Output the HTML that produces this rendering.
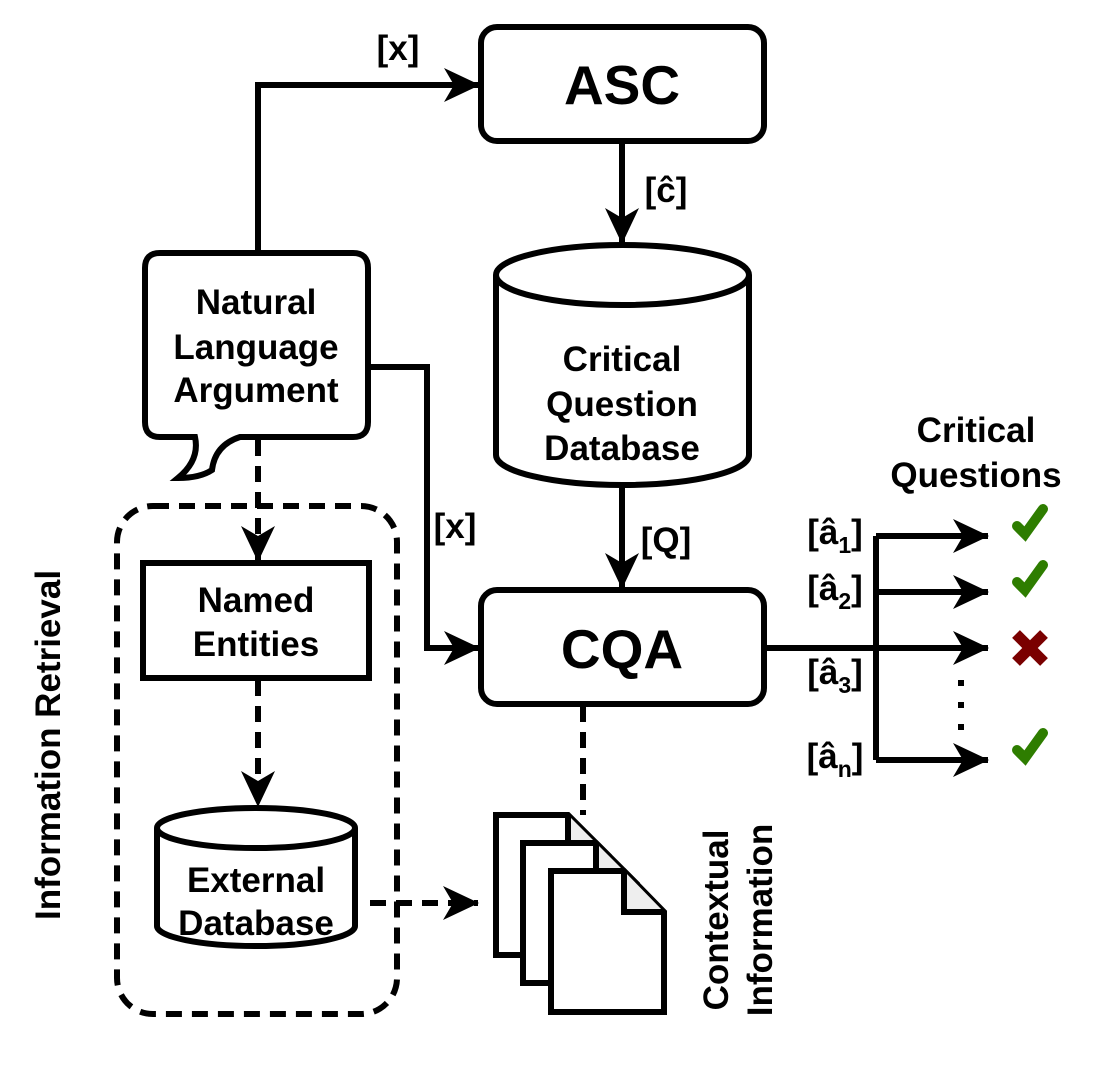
<!DOCTYPE html>
<html><head><style>body{margin:0;background:#fff}svg{display:block}</style></head><body>
<svg width="1104" height="1081" viewBox="0 0 1104 1081" xmlns="http://www.w3.org/2000/svg" font-family="Liberation Sans, sans-serif" font-weight="bold">
<defs>
<marker id="ah" markerWidth="36" markerHeight="34" refX="35" refY="17" orient="auto" markerUnits="userSpaceOnUse"><path d="M0,0 L36,17 L0,34 L10,17 Z" fill="#000"/></marker>
</defs>
<g stroke="#000" stroke-width="6" fill="none">
<path d="M258,253 V85 H479" marker-end="url(#ah)"/>
<path d="M622,141 V243" marker-end="url(#ah)"/>
<path d="M622,487 V588" marker-end="url(#ah)"/>
<path d="M368,367 H427 V648 H479" marker-end="url(#ah)"/>
<path d="M764,648 H988" marker-end="url(#ah)"/>
<path d="M876,536 V760"/>
<path d="M876,536 H988" marker-end="url(#ah)"/>
<path d="M876,592 H988" marker-end="url(#ah)"/>
<path d="M876,760 H988" marker-end="url(#ah)"/>
<g stroke-dasharray="16,10">
<rect x="117" y="506" width="280" height="508" rx="36"/>
<path d="M258,440 V561" marker-end="url(#ah)"/>
<path d="M258,680 V806" marker-end="url(#ah)"/>
<path d="M370,903 H478" marker-end="url(#ah)"/>
<path d="M583,706 V815"/>
</g>
<rect x="481" y="27" width="283" height="114" rx="16" fill="#fff"/>
<rect x="481" y="590" width="283" height="114" rx="16" fill="#fff"/>
<rect x="143" y="563" width="226" height="115" fill="#fff"/>
<path d="M160,253 H353 Q368,253 368,268 V422 Q368,437 353,437 H240 Q215,445 212,470 Q200,478 178,478 Q200,460 195,437 H160 Q145,437 145,422 V268 Q145,253 160,253 Z" fill="#fff"/>
<path d="M496,275 V455 A126.5,30 0 0 0 749,455 V275" fill="#fff"/>
<ellipse cx="622.5" cy="275" rx="126.5" ry="30" fill="#fff"/>
<path d="M157,828 V926 A99,20 0 0 0 355,926 V828" fill="#fff"/>
<ellipse cx="256" cy="828" rx="99" ry="20" fill="#fff"/>
<path d="M496,815 H568 L609,856 V955 H496 Z" fill="#fff"/>
<path d="M568,815 V856 H609" fill="#eee"/>
<path d="M523,843 H596 L637,884 V983 H523 Z" fill="#fff"/>
<path d="M596,843 V884 H637" fill="#eee"/>
<path d="M551,871 H624 L664,912 V1012 H551 Z" fill="#fff"/>
<path d="M624,871 V912 H664" fill="#eee"/>
</g>
<g font-size="35" text-anchor="middle" fill="#000">
<text x="622" y="104" font-size="55">ASC</text>
<text x="622" y="668" font-size="55">CQA</text>
<text x="256" y="314">Natural</text>
<text x="256" y="359">Language</text>
<text x="256" y="402">Argument</text>
<text x="256" y="612">Named</text>
<text x="256" y="656">Entities</text>
<text x="256" y="892">External</text>
<text x="256" y="935">Database</text>
<text x="622" y="371">Critical</text>
<text x="622" y="416">Question</text>
<text x="622" y="460">Database</text>
<text x="976" y="442">Critical</text>
<text x="976" y="487">Questions</text>
<text x="398" y="60">[x]</text>
<text x="455" y="538">[x]</text>
<text x="666" y="202">[ĉ]</text>
<text x="666" y="552">[Q]</text>
<text x="835" y="544">[â<tspan font-size="23" dy="9">1</tspan><tspan dy="-9">]</tspan></text>
<text x="835" y="600">[â<tspan font-size="23" dy="9">2</tspan><tspan dy="-9">]</tspan></text>
<text x="835" y="684">[â<tspan font-size="23" dy="9">3</tspan><tspan dy="-9">]</tspan></text>
<text x="835" y="768">[â<tspan font-size="23" dy="9">n</tspan><tspan dy="-9">]</tspan></text>
<text transform="translate(60,745) rotate(-90)">Information Retrieval</text>
<text transform="translate(728,920) rotate(-90)">Contextual</text>
<text transform="translate(772,920) rotate(-90)">Information</text>
</g>
<g fill="#000"><rect x="958" y="680" width="6" height="6"/><rect x="958" y="702" width="6" height="6"/><rect x="958" y="724" width="6" height="6"/></g>
<g stroke="#2e7d00" stroke-width="10" stroke-linecap="round" fill="none">
<path d="M1017,526 L1025,534 L1043,509"/>
<path d="M1017,582 L1025,590 L1043,565"/>
<path d="M1017,750 L1025,758 L1043,733"/>
</g>
<g stroke="#7a0000" stroke-width="11" fill="none">
<path d="M1016,634 L1044,662 M1044,634 L1016,662"/>
</g>
</svg>
</body></html>
